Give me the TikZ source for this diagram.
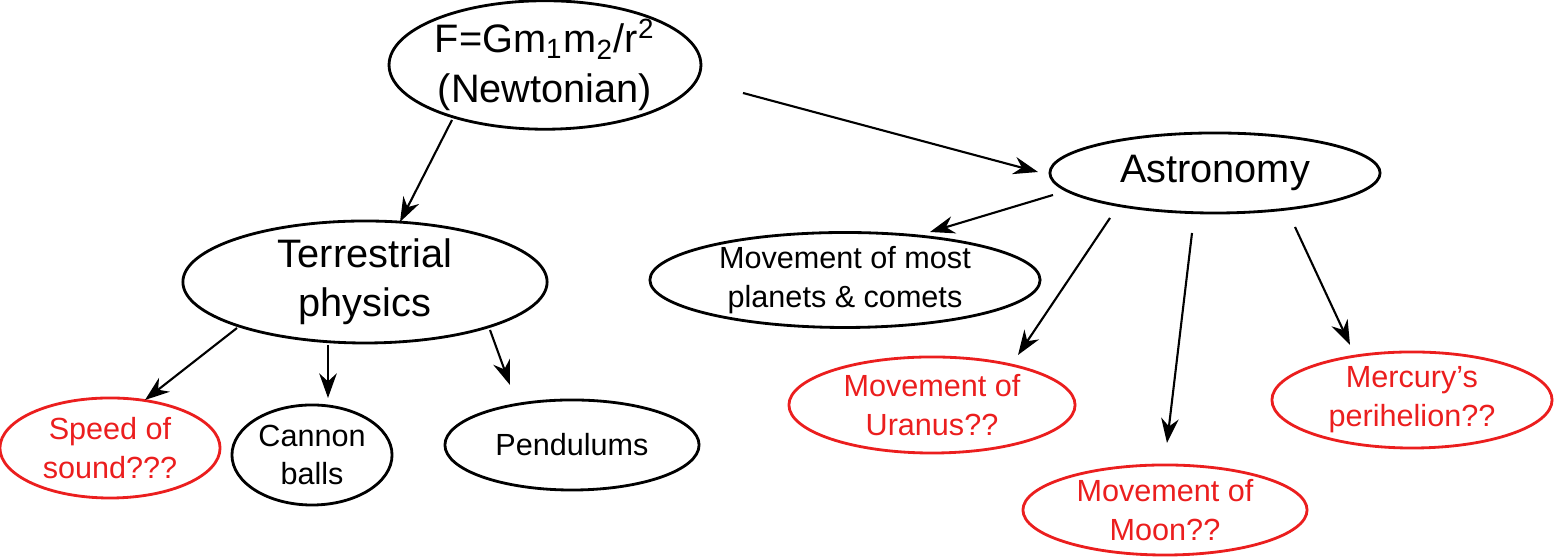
\documentclass[tikz,border=0pt]{standalone}
\usepackage{fontspec}
\setmainfont{Liberation Sans}
\usetikzlibrary{arrows.meta,positioning,shapes.geometric}
\definecolor{qred}{RGB}{235,30,30}

\begin{document}
\begin{tikzpicture}[x=0.01cm,y=-0.01cm,
		oval/.style={draw, ellipse, thick, align=center, inner sep=0pt},
		big/.style={oval, font=\fontsize{11.3}{14}\selectfont},
		small/.style={oval, font=\fontsize{8.7}{11}\selectfont},
		open/.style={small, draw=qred, text=qred},
		link/.style={-{Stealth[length=7pt,width=5pt]}, semithick}]
	\useasboundingbox (0,0) rectangle (1557,559);

	% Top of the tree
	\node[big, minimum width=2.96cm, minimum height=0.96cm] (newton) at (545,65) {F=Gm\textsubscript{1}m\textsubscript{2}/r\textsuperscript{2}\\(Newtonian)};

	% Two branches
	\node[big, minimum width=3.30cm, minimum height=0.80cm] (astro) at (1215,173) {Astronomy};
	\node[big, minimum width=3.64cm, minimum height=1.04cm] (terr) at (365,282) {Terrestrial\\physics};

	% Leaves
	\node[small, minimum width=3.90cm, minimum height=0.86cm] (planets) at (845,280) {Movement of most\\planets \& comets};
	\node[open, minimum width=2.20cm, minimum height=1.00cm] (sound) at (110,448) {Speed of\\sound???};
	\node[small, minimum width=1.60cm, minimum height=1.00cm] (cannon) at (312,455) {Cannon\\balls};
	\node[small, minimum width=2.54cm, minimum height=0.90cm] (pend) at (572,445) {Pendulums};
	\node[open, minimum width=2.86cm, minimum height=0.96cm] (uranus) at (932,405) {Movement of\\Uranus??};
	\node[open, minimum width=2.84cm, minimum height=0.90cm] (moon) at (1165,510) {Movement of\\Moon??};
	\node[open, minimum width=2.80cm, minimum height=0.96cm] (mercury) at (1412,400) {Mercury's\\perihelion??};

	% Arrow ends
	\coordinate (n1) at (452,120); \coordinate (n2) at (743,93);
	\coordinate (a1) at (1053,195); \coordinate (a2) at (1110,218);
	\coordinate (a3) at (1192,233); \coordinate (a4) at (1295,227);
	\coordinate (t1) at (237,328); \coordinate (t2) at (328,345);
	\coordinate (t3) at (490,330);
	\coordinate (terrtop) at (400,222); \coordinate (astroleft) at (1038,172);
	\coordinate (planetstop) at (930,232); \coordinate (uranustop) at (1018,355);
	\coordinate (moontop) at (1167,443); \coordinate (mercurytop) at (1350,345);
	\coordinate (soundtop) at (145,400); \coordinate (cannontop) at (328,398);
	\coordinate (pendtop) at (510,385);

	% Arrows
	\draw[link] (n1) -- (terrtop);
	\draw[link] (n2) -- (astroleft);
	\draw[link] (a1) -- (planetstop);
	\draw[link] (a2) -- (uranustop);
	\draw[link] (a3) -- (moontop);
	\draw[link] (a4) -- (mercurytop);
	\draw[link] (t1) -- (soundtop);
	\draw[link] (t2) -- (cannontop);
	\draw[link] (t3) -- (pendtop);
\end{tikzpicture}
\end{document}
